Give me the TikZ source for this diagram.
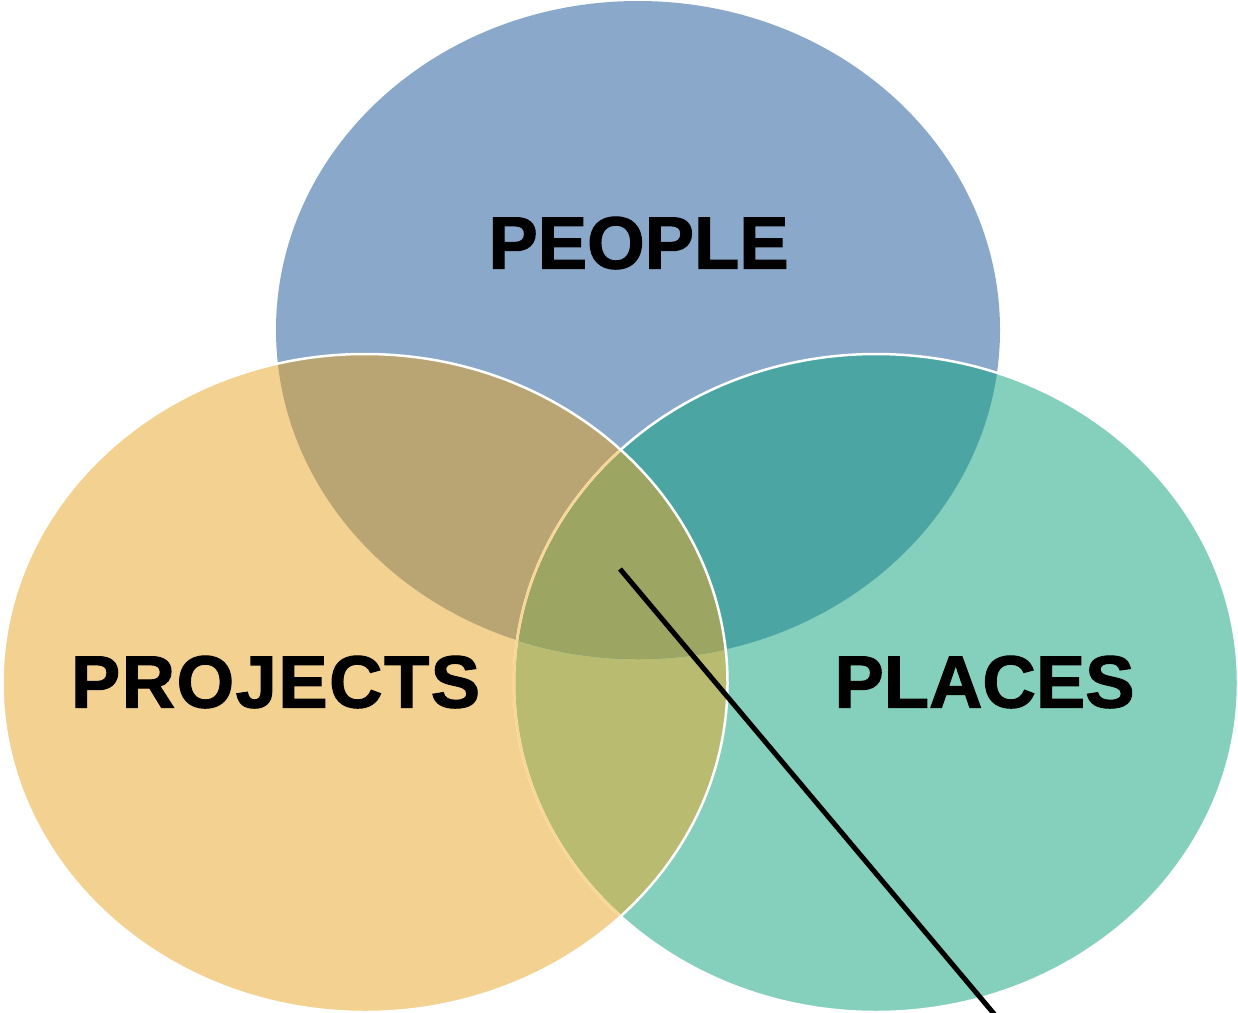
\documentclass[tikz,border=0pt]{standalone}
\usepackage{fontspec}
\setmainfont{Liberation Sans}
\newfontfamily\setfont[FakeBold=1.5]{Liberation Sans Bold}
\definecolor{cB}{RGB}{138,168,202}
\definecolor{cY}{RGB}{243,209,145}
\definecolor{cG}{RGB}{133,208,189}
\definecolor{cBY}{RGB}{185,165,116}
\definecolor{cBG}{RGB}{74,165,163}
\definecolor{cYG}{RGB}{184,187,112}
\definecolor{cBYG}{RGB}{156,165,98}
\definecolor{cEdgeY}{RGB}{250,214,148}
\def\elB{(638,330) ellipse [x radius=362, y radius=329]}
\def\elY{(365,683) ellipse [x radius=362.5, y radius=329]}
\def\elG{(876,683) ellipse [x radius=362, y radius=329]}
\begin{document}
\begin{tikzpicture}[x=1pt,y=-1pt,
  setlabel/.style={font=\setfont\fontsize{74}{80}\selectfont, anchor=base, inner sep=0pt, text=black},
  rim/.style={line width=2.5pt}]
\useasboundingbox (0,0) rectangle (1238,1012);
% plain fills
\fill[cB] \elB;
\fill[cG] \elG;
\fill[cY] \elY;
% overlaps
\begin{scope}
  \clip \elY;
  \fill[cYG] \elG;
\end{scope}
\begin{scope}
  \clip \elB;
  \fill[cBY] \elY;
  \fill[cBG] \elG;
  \clip \elY;
  \fill[cBYG] \elG;
\end{scope}
% rims
\draw[rim, white] \elG;
\begin{scope}
  \clip \elY;
  \draw[rim, cEdgeY] \elG;
\end{scope}
\draw[rim, white] \elY;
% labels
\node[setlabel] (people) at (638.5,268.5) {PEOPLE};
\node[setlabel] (projects) at (275.5,707.5) {\addfontfeature{LetterSpace=2}PROJECTS};
\node[setlabel] (places) at (984.5,707.5) {PLACES};
% pointer line
\coordinate (ls) at (620,569);
\coordinate (le) at (995,1015);
\draw[line width=5pt] (ls) -- (le);
\end{tikzpicture}
\end{document}
